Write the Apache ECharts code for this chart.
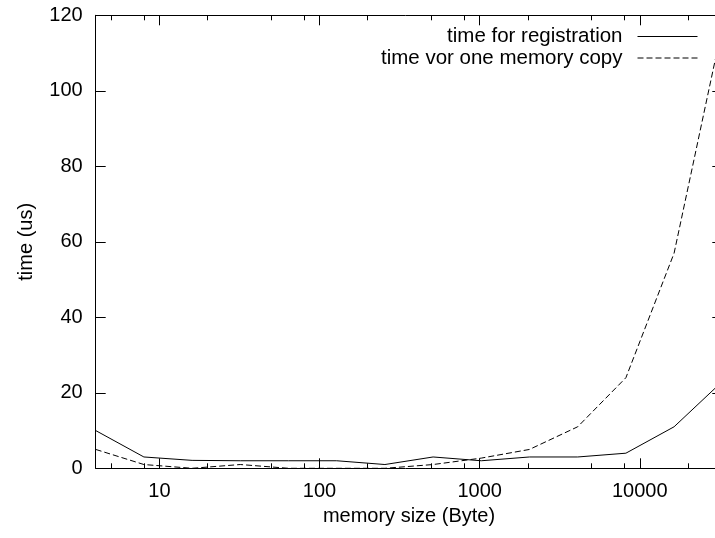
<!DOCTYPE html>
<html><head><meta charset="utf-8">
<script src="https://cdn.jsdelivr.net/npm/echarts@6/dist/echarts.min.js"></script>
<style>html,body{margin:0;padding:0;background:#fff}#c{width:715px;height:538px}</style>
</head><body><div id="c"></div>
<script>
const sizes = [4, 8, 16, 32, 64, 128, 256, 512, 1024, 2048, 4096, 8192, 16384, 32768];
const registration = [10, 3, 2.1, 2, 2, 2, 1, 3, 2, 3, 3, 4, 11, 23];
const memcopy = [5, 1, 0, 1, 0, 0, 0, 1, 2.7, 5, 11, 24, 57, 117];
const xMajorTicks = [10, 100, 1000, 10000];
const xMinorTicks = [5, 8, 20, 50, 80, 200, 500, 800, 2000, 5000, 8000, 20000];
const seriesNames = ['time for registration', 'time vor one memory copy'];
const xTitle = 'memory size (Byte)';
const yTitle = 'time (us)';

const FONT = 'Liberation Sans, Arial, Helvetica, sans-serif';
const black = '#000';
const chart = echarts.init(document.getElementById('c'), null, {renderer: 'canvas'});

function xAxisDef(pos, ticks, len, showLine, showLabels, extra) {
  return Object.assign({
    type: 'log', logBase: 10, min: 4, max: 32768, position: pos,
    axisLine: {show: showLine, lineStyle: {color: black, width: 1}},
    axisTick: {show: true, inside: true, length: len, customValues: ticks, lineStyle: {color: black, width: 1}},
    axisLabel: showLabels ? {
      show: true, customValues: ticks, color: black, fontSize: 20, fontFamily: FONT, margin: 13,
      formatter: v => String(Math.round(v))
    } : {show: false},
    splitLine: {show: false}, minorTick: {show: false}
  }, extra || {});
}
function yAxisDef(pos, showLabels, extra) {
  return Object.assign({
    type: 'value', min: 0, max: 120, interval: 20, position: pos,
    axisLine: {show: true, lineStyle: {color: black, width: 1}},
    axisTick: {show: true, inside: true, length: 10, lineStyle: {color: black, width: 1}},
    axisLabel: showLabels ? {show: true, color: black, fontSize: 20, fontFamily: FONT, margin: 13} : {show: false},
    splitLine: {show: false}
  }, extra || {});
}

chart.setOption({
  animation: false,
  backgroundColor: '#fff',
  grid: {left: 95.7, right: -7.3, top: 15.3, bottom: 69.7, containLabel: false, outerBoundsMode: 'none'},
  legend: {
    data: seriesNames, orient: 'vertical', right: 12, top: 21, align: 'right',
    itemWidth: 60, itemHeight: 1, itemGap: 0.5,
    itemStyle: {opacity: 0},
    lineStyle: {width: 1, color: black},
    textStyle: {color: black, fontSize: 20.5, fontFamily: FONT, padding: [0, 10, 0, 0]}
  },
  xAxis: [
    xAxisDef('bottom', xMajorTicks, 10, true, true, {
      name: xTitle, nameLocation: 'middle', nameGap: 37,
      nameTextStyle: {color: black, fontSize: 20, fontFamily: FONT}
    }),
    xAxisDef('bottom', xMinorTicks, 5, false, false),
    xAxisDef('top', xMajorTicks, 10, true, false),
    xAxisDef('top', xMinorTicks, 5, false, false)
  ],
  yAxis: [
    yAxisDef('left', true, {
      name: yTitle, nameLocation: 'middle', nameGap: 59,
      nameTextStyle: {color: black, fontSize: 20, fontFamily: FONT}
    }),
    yAxisDef('right', false)
  ],
  series: [
    {
      name: seriesNames[0], type: 'line', xAxisIndex: 0, yAxisIndex: 0,
      data: sizes.map((s, i) => [s, registration[i]]),
      symbol: 'none', lineStyle: {color: black, width: 1, type: 'solid'}, itemStyle: {color: black}
    },
    {
      name: seriesNames[1], type: 'line', xAxisIndex: 0, yAxisIndex: 0,
      data: sizes.map((s, i) => [s, memcopy[i]]),
      symbol: 'none', lineStyle: {color: black, width: 1, type: [6, 3]}, itemStyle: {color: black}
    }
  ]
});
</script>
</body></html>
